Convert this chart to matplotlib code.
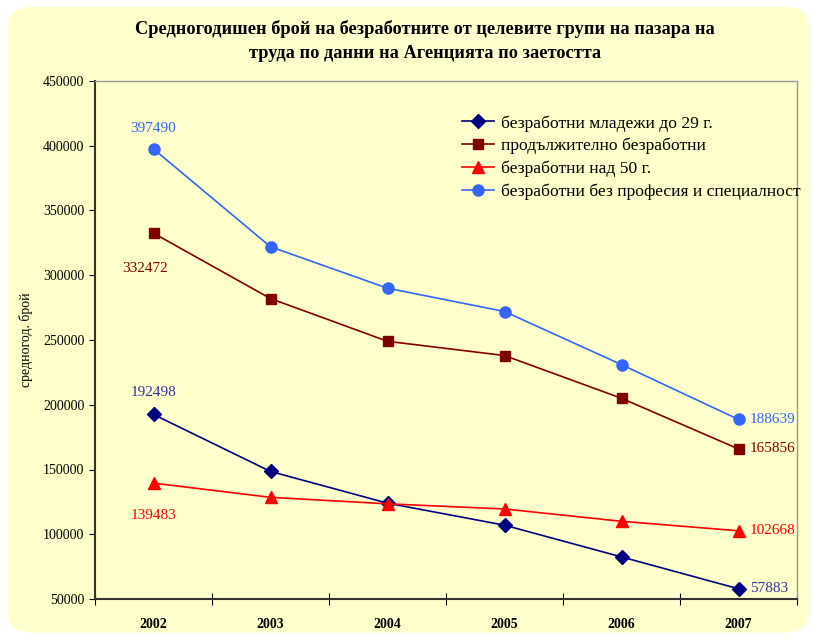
import matplotlib.pyplot as plt
from matplotlib.patches import FancyBboxPatch

# данни
godini = ['2002', '2003', '2004', '2005', '2006', '2007']
mladezhi = [192498, 148500, 124000, 107000, 82500, 57883]
prodalzhitelno = [332472, 282000, 249000, 238000, 205000, 165856]
nad50 = [139483, 128500, 123500, 119500, 110000, 102668]
bez_profesia = [397490, 322000, 290000, 272000, 231000, 188639]

imena = ['безработни младежи до 29 г.', 'продължително безработни',
         'безработни над 50 г.', 'безработни без професия и специалност']

plt.rcParams['font.family'] = ['Liberation Serif', 'DejaVu Serif']
fon = '#FFFFCC'

fig = plt.figure(figsize=(8.13, 6.39), dpi=100)
fig.patch.set_facecolor('white')
fig.patches.append(FancyBboxPatch((0.01, 0.01), 0.985, 0.979,
                                  boxstyle='round,pad=0,rounding_size=0.03',
                                  transform=fig.transFigure, facecolor=fon,
                                  edgecolor='none', zorder=-5))

ax = fig.add_axes([95 / 813, 1 - 599 / 639, 702 / 813, 518 / 639])
ax.set_facecolor(fon)
ax.set_zorder(1)

x = [i + 0.5 for i in range(len(godini))]
ax.plot(x, mladezhi, color='#000080', marker='D', ms=7, lw=1.2, label=imena[0])
ax.plot(x, prodalzhitelno, color='#800000', marker='s', ms=7, lw=1.2, label=imena[1])
ax.plot(x, nad50, color='#FF0000', marker='^', ms=9, lw=1.2, label=imena[2])
ax.plot(x, bez_profesia, color='#3366FF', marker='o', ms=8, lw=1.2, label=imena[3])

ax.set_xlim(0, 6)
ax.set_ylim(50000, 450000)
ax.set_yticks(range(50000, 450001, 50000))
ax.set_xticks(range(0, 7))
ax.set_xticklabels([])
ax.set_xticks(x, minor=True)
ax.set_xticklabels(godini, minor=True, fontweight='bold', fontsize=10)
ax.tick_params(axis='x', which='minor', length=0, pad=14)
ax.tick_params(axis='x', which='major', direction='inout', length=8)
ax.tick_params(axis='y', direction='out', length=4, labelsize=10)

for s in ['left', 'bottom']:
    ax.spines[s].set_color('#333333')
    ax.spines[s].set_linewidth(1.5)
for s in ['top', 'right']:
    ax.spines[s].set_color('#999999')
    ax.spines[s].set_linewidth(1)

ax.set_ylabel('средногод. брой', fontsize=10)
ax.yaxis.set_label_coords(-62 / 702, 0.5)

# надписи на стойностите
ax.annotate(str(bez_profesia[0]), (x[0], bez_profesia[0]), xytext=(0, 12),
            textcoords='offset points', ha='center', color='#3366FF', fontsize=11)
ax.annotate(str(prodalzhitelno[0]), (x[0], prodalzhitelno[0]), xytext=(-6, -28),
            textcoords='offset points', ha='center', color='#800000', fontsize=11)
ax.annotate(str(mladezhi[0]), (x[0], mladezhi[0]), xytext=(0, 13),
            textcoords='offset points', ha='center', color='#333399', fontsize=11)
ax.annotate(str(nad50[0]), (x[0], nad50[0]), xytext=(0, -26),
            textcoords='offset points', ha='center', color='#FF0000', fontsize=11)
for ser, c in [(bez_profesia, '#3366FF'), (prodalzhitelno, '#800000'),
               (nad50, '#FF0000'), (mladezhi, '#333399')]:
    ax.annotate(str(ser[-1]), (x[-1], ser[-1]), xytext=(8, 0),
                textcoords='offset points', ha='left', va='center', color=c,
                fontsize=11)

ax.legend(loc='upper left', bbox_to_anchor=(462 / 813, 1 - 115 / 639),
          bbox_transform=fig.transFigure, frameon=False, borderpad=0,
          borderaxespad=0, fontsize=12.6, handlelength=1.8, handletextpad=0.45,
          labelspacing=0.36)

fig.text(0.523, 0.968, 'Средногодишен брой на безработните от целевите групи на пазара на\n'
         'труда по данни на Агенцията по заетостта', ha='center', va='top',
         fontsize=13.2, fontweight='bold', linespacing=1.5)

fig.savefig('out.png', dpi=100, facecolor=fig.get_facecolor())
